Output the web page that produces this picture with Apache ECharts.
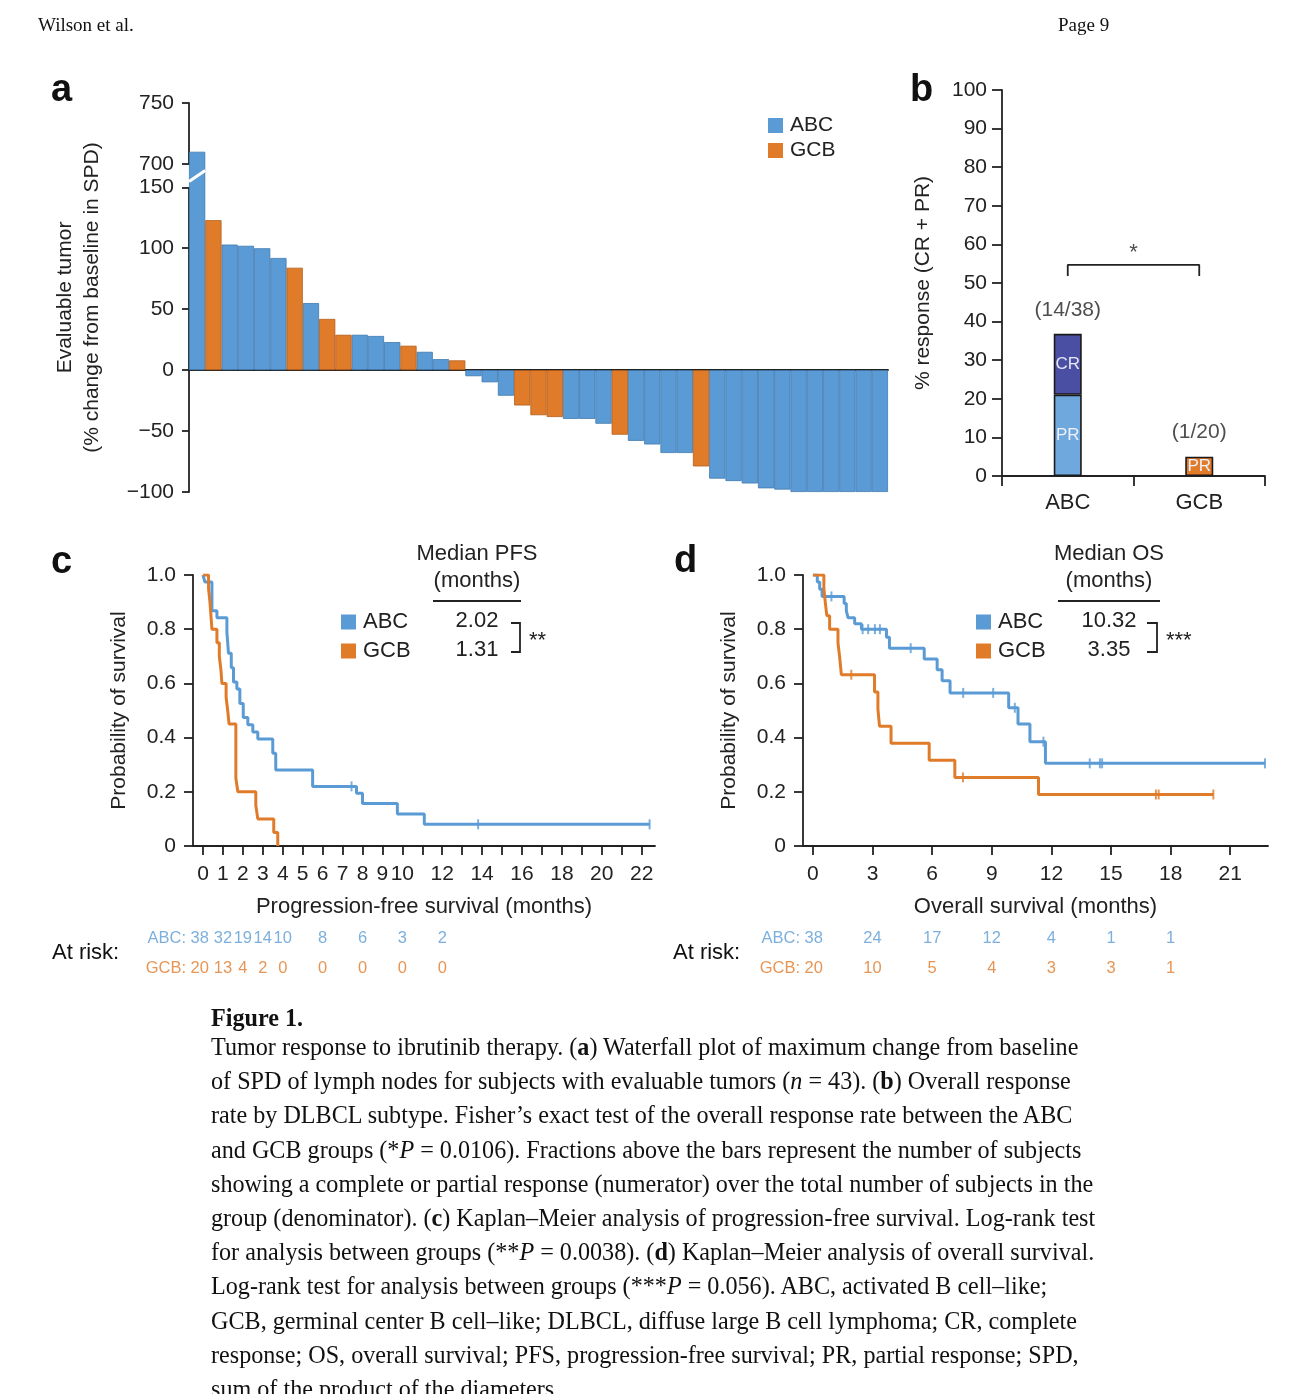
<!DOCTYPE html>
<html><head><meta charset="utf-8">
<script src="https://cdn.jsdelivr.net/npm/echarts@6.0.0/dist/echarts.min.js"></script>
<style>
html,body{margin:0;padding:0;background:#fff;}
#chart{position:absolute;left:0;top:0;width:1292px;height:1394px;}
.hdr{position:absolute;top:14px;font-family:'Liberation Serif','Times New Roman',serif;font-size:19px;color:#111;}
.cap{position:absolute;left:211px;font-family:'Liberation Serif','Times New Roman',serif;font-size:24.15px;line-height:34.2px;color:#111;white-space:pre;}
</style></head><body>
<div id="chart"></div>
<div class="hdr" style="left:38px">Wilson et al.</div>
<div class="hdr" style="left:1058px">Page 9</div>
<div class="cap" style="top:1001px"><b>Figure 1.</b></div>
<div class="cap" style="top:1030px">Tumor response to ibrutinib therapy. (<b>a</b>) Waterfall plot of maximum change from baseline
of SPD of lymph nodes for subjects with evaluable tumors (<i>n</i> = 43). (<b>b</b>) Overall response
rate by DLBCL subtype. Fisher’s exact test of the overall response rate between the ABC
and GCB groups (*<i>P</i> = 0.0106). Fractions above the bars represent the number of subjects
showing a complete or partial response (numerator) over the total number of subjects in the
group (denominator). (<b>c</b>) Kaplan–Meier analysis of progression-free survival. Log-rank test
for analysis between groups (**<i>P</i> = 0.0038). (<b>d</b>) Kaplan–Meier analysis of overall survival.
Log-rank test for analysis between groups (***<i>P</i> = 0.056). ABC, activated B cell–like;
GCB, germinal center B cell–like; DLBCL, diffuse large B cell lymphoma; CR, complete
response; OS, overall survival; PFS, progression-free survival; PR, partial response; SPD,
sum of the product of the diameters.</div>
<script>
// ---------- Panel a: waterfall ----------
const waterfallValues = [710,123,103,102,100,92,84,55,42,29,29,28,23,20,15,9,8,-5,-10,-21,-29,-37,-38.5,-40,-40,-44,-53,-58,-61,-68,-68,-79,-89,-91,-93,-97,-98,-100,-100,-100,-100,-100,-100];
const waterfallSubtype = ['ABC','GCB','ABC','ABC','ABC','ABC','GCB','ABC','GCB','GCB','ABC','ABC','ABC','GCB','ABC','ABC','GCB','ABC','ABC','ABC','GCB','GCB','GCB','ABC','ABC','ABC','GCB','ABC','ABC','ABC','ABC','GCB','ABC','ABC','ABC','ABC','ABC','ABC','ABC','ABC','ABC','ABC','ABC'];
const waterfallTicks = [-100,-50,0,50,100,150,700,750];

// ---------- Panel b: response ----------
const responseGroups = ['ABC','GCB'];
const prPercent = [21.05, 5.0];
const crPercent = [15.79, 0];
const responseFractions = ['(14/38)', '(1/20)'];
const bracketLevels = [51.8, 54.7];

// ---------- Panel c: PFS ----------
const pfsABC = [[0,1],[0.1,0.974],[0.45,0.868],[0.7,0.842],[1.2,0.789],[1.28,0.711],[1.42,0.658],[1.53,0.605],[1.7,0.579],[1.85,0.526],[2.02,0.474],[2.25,0.447],[2.5,0.421],[2.75,0.395],[3.5,0.342],[3.65,0.28],[5.5,0.22],[7.7,0.195],[8.0,0.157],[9.75,0.118],[11.1,0.08],[22.4,0.08]];
const pfsGCB = [[0,1],[0.28,0.95],[0.35,0.90],[0.45,0.80],[0.7,0.75],[0.82,0.70],[0.9,0.65],[0.95,0.60],[1.16,0.55],[1.24,0.50],[1.31,0.45],[1.65,0.25],[1.75,0.20],[2.65,0.15],[2.75,0.10],[3.55,0.05],[3.75,0]];
const pfsCensorABC = [7.45, 13.8, 22.4];
const pfsTicks = [0,1,2,3,4,5,6,7,8,9,10,11,12,13,14,15,16,17,18,19,20,21,22];
const pfsTickLabels = [0,1,2,3,4,5,6,7,8,9,10,12,14,16,18,20,22];
const pfsRiskTimes = [0,1,2,3,4,6,8,10,12];
const pfsRiskABC = [38,32,19,14,10,8,6,3,2];
const pfsRiskGCB = [20,13,4,2,0,0,0,0,0];
const pfsMedians = ['2.02','1.31'];

// ---------- Panel d: OS ----------
const osABC = [[0,1],[0.22,0.974],[0.34,0.947],[0.46,0.921],[1.57,0.895],[1.68,0.868],[1.77,0.842],[2.1,0.82],[2.44,0.80],[3.7,0.77],[3.85,0.73],[5.6,0.69],[6.25,0.65],[6.5,0.61],[6.9,0.565],[9.85,0.51],[10.32,0.45],[10.92,0.385],[11.7,0.305],[22.75,0.305]];
const osGCB = [[0,1],[0.55,0.95],[0.62,0.90],[0.7,0.85],[0.84,0.80],[1.26,0.75],[1.34,0.70],[1.43,0.632],[3.1,0.568],[3.27,0.505],[3.35,0.442],[3.93,0.379],[5.85,0.316],[7.14,0.253],[11.35,0.19],[20.15,0.19]];
const osCensorABC = [0.93,2.5,2.78,3.12,3.37,4.92,7.56,9.07,10.16,11.6,13.93,14.44,14.55,22.75];
const osCensorGCB = [1.93,7.55,17.26,17.4,20.15];
const osTicks = [0,3,6,9,12,15,18,21];
const osRiskTimes = [0,3,6,9,12,15,18];
const osRiskABC = [38,24,17,12,4,1,1];
const osRiskGCB = [20,10,5,4,3,3,1];
const osMedians = ['10.32','3.35'];

// ---------- styling ----------
const FONT = 'Liberation Sans, Arial, Helvetica, sans-serif';
const DARK = '#222';
const BLUE = '#5B9BD5', ORANGE = '#E07B2A', CRCOL = '#4B4FA3', PRCOL = '#6FA8DC';
const AX = { color: DARK, width: 1.8 };

function stepAt(curve, t) { let s = curve[0][1]; for (const p of curve) { if (p[0] <= t) s = p[1]; else break; } return s; }
function censorPts(curve, times) { return times.map(t => [t, stepAt(curve, t)]); }
function riskData(times, counts, y, prefix, off) {
  return times.map((t, i) => i === 0
    ? { value: [t, y, counts[i]], label: { formatter: prefix + counts[i], align: 'right', offset: [off, 0] } }
    : { value: [t, y, counts[i]] });
}
const lbl = (size, extra) => Object.assign({ fontFamily: FONT, fontSize: size, color: DARK }, extra || {});
const legendData = () => [
  { name: 'ABC', icon: 'rect', itemStyle: { color: BLUE, borderWidth: 0 } },
  { name: 'GCB', icon: 'rect', itemStyle: { color: ORANGE, borderWidth: 0 } }
];

const chart = echarts.init(document.getElementById('chart'), null, { renderer: 'canvas', width: 1292, height: 1394 });

const graphics = [
  { type: 'text', x: 51, y: 91, style: { text: 'a', font: 'bold 38px ' + FONT, fill: '#111', textVerticalAlign: 'middle' } },
  { type: 'text', x: 910, y: 91, style: { text: 'b', font: 'bold 38px ' + FONT, fill: '#111', textVerticalAlign: 'middle' } },
  { type: 'text', x: 51, y: 563, style: { text: 'c', font: 'bold 38px ' + FONT, fill: '#111', textVerticalAlign: 'middle' } },
  { type: 'text', x: 674, y: 562, style: { text: 'd', font: 'bold 38px ' + FONT, fill: '#111', textVerticalAlign: 'middle' } },
  // panel c median table
  { type: 'text', x: 477, y: 554, style: { text: 'Median PFS', font: '22px ' + FONT, fill: DARK, textAlign: 'center', textVerticalAlign: 'middle' } },
  { type: 'text', x: 477, y: 581, style: { text: '(months)', font: '22px ' + FONT, fill: DARK, textAlign: 'center', textVerticalAlign: 'middle' } },
  { type: 'line', shape: { x1: 433, y1: 601, x2: 521, y2: 601 }, style: { stroke: DARK, lineWidth: 2 } },
  { type: 'text', x: 477, y: 621, style: { text: pfsMedians[0], font: '22px ' + FONT, fill: DARK, textAlign: 'center', textVerticalAlign: 'middle' } },
  { type: 'text', x: 477, y: 650, style: { text: pfsMedians[1], font: '22px ' + FONT, fill: DARK, textAlign: 'center', textVerticalAlign: 'middle' } },
  { type: 'polyline', shape: { points: [[511, 623], [520, 623], [520, 652], [511, 652]] }, style: { stroke: DARK, lineWidth: 1.8, fill: null } },
  { type: 'text', x: 529, y: 641, style: { text: '**', font: '22px ' + FONT, fill: DARK, textVerticalAlign: 'middle' } },
  // panel d median table
  { type: 'text', x: 1109, y: 554, style: { text: 'Median OS', font: '22px ' + FONT, fill: DARK, textAlign: 'center', textVerticalAlign: 'middle' } },
  { type: 'text', x: 1109, y: 581, style: { text: '(months)', font: '22px ' + FONT, fill: DARK, textAlign: 'center', textVerticalAlign: 'middle' } },
  { type: 'line', shape: { x1: 1058, y1: 601, x2: 1160, y2: 601 }, style: { stroke: DARK, lineWidth: 2 } },
  { type: 'text', x: 1109, y: 621, style: { text: osMedians[0], font: '22px ' + FONT, fill: DARK, textAlign: 'center', textVerticalAlign: 'middle' } },
  { type: 'text', x: 1109, y: 650, style: { text: osMedians[1], font: '22px ' + FONT, fill: DARK, textAlign: 'center', textVerticalAlign: 'middle' } },
  { type: 'polyline', shape: { points: [[1147, 623], [1157, 623], [1157, 652], [1147, 652]] }, style: { stroke: DARK, lineWidth: 1.8, fill: null } },
  { type: 'text', x: 1166, y: 641, style: { text: '***', font: '22px ' + FONT, fill: DARK, textVerticalAlign: 'middle' } },
  // at risk captions
  { type: 'text', x: 52, y: 953, style: { text: 'At risk:', font: '22px ' + FONT, fill: '#111', textVerticalAlign: 'middle' } },
  { type: 'text', x: 673, y: 953, style: { text: 'At risk:', font: '22px ' + FONT, fill: '#111', textVerticalAlign: 'middle' } }
];

const option = {
  animation: false,
  textStyle: { fontFamily: FONT },
  grid: [
    { left: 189, top: 103, width: 699, height: 389 },   // a
    { left: 1002, top: 90, width: 263, height: 386 },   // b
    { left: 193, top: 575, width: 462, height: 271 },   // c
    { left: 803, top: 575, width: 465, height: 271 },   // d
    { left: 193, top: 938, width: 462, height: 30 },    // c at risk
    { left: 803, top: 938, width: 465, height: 30 }     // d at risk
  ],
  xAxis: [
    { gridIndex: 0, type: 'category', data: waterfallValues.map((_, i) => String(i + 1)),
      axisLine: { show: true, onZero: true, lineStyle: AX }, axisTick: { show: false }, axisLabel: { show: false } },
    { gridIndex: 1, type: 'category', data: responseGroups,
      axisLine: { onZero: false, lineStyle: AX }, axisTick: { show: true, length: 10, lineStyle: AX },
      axisLabel: lbl(22, { margin: 16 }) },
    { gridIndex: 1, type: 'value', min: -0.5, max: 1.5, show: false },
    { gridIndex: 2, type: 'value', min: -0.5, max: 22.67,
      axisLine: { show: true, onZero: false, lineStyle: AX },
      axisTick: { show: true, customValues: pfsTicks, length: 9, lineStyle: AX },
      axisLabel: lbl(21, { customValues: pfsTickLabels, margin: 18 }),
      splitLine: { show: false },
      name: 'Progression-free survival (months)', nameLocation: 'middle', nameGap: 50, nameTextStyle: lbl(22) },
    { gridIndex: 3, type: 'value', min: -0.5, max: 22.9,
      axisLine: { show: true, onZero: false, lineStyle: AX },
      axisTick: { show: true, customValues: osTicks, length: 9, lineStyle: AX },
      axisLabel: lbl(21, { customValues: osTicks, margin: 18 }),
      splitLine: { show: false },
      name: 'Overall survival (months)', nameLocation: 'middle', nameGap: 50, nameTextStyle: lbl(22) },
    { gridIndex: 4, type: 'value', min: -0.5, max: 22.67, show: false },
    { gridIndex: 5, type: 'value', min: -0.5, max: 22.9, show: false }
  ],
  yAxis: [
    { gridIndex: 0, type: 'value', min: -100, max: 750, interval: 50,
      breaks: [{ start: 150, end: 700, gap: '6%' }],
      breakArea: { show: false, expandOnClick: false },
      axisLine: { show: true, onZero: false, lineStyle: AX },
      axisTick: { show: true, length: 7, customValues: waterfallTicks, lineStyle: AX },
      axisLabel: lbl(21, { margin: 15, customValues: waterfallTicks, formatter: v => (v < 0 ? '\u2212' + (-v) : String(v)) }),
      splitLine: { show: false },
      name: 'Evaluable tumor\n(% change from baseline in SPD)', nameLocation: 'middle', nameGap: 83,
      nameTextStyle: lbl(21, { lineHeight: 27 }) },
    { gridIndex: 1, type: 'value', min: 0, max: 100, interval: 10,
      axisLine: { show: true, onZero: false, lineStyle: AX }, axisTick: { show: true, length: 10, lineStyle: AX },
      axisLabel: lbl(21, { margin: 15 }), splitLine: { show: false },
      name: '% response (CR + PR)', nameLocation: 'middle', nameGap: 68, nameTextStyle: lbl(21) },
    { gridIndex: 2, type: 'value', min: 0, max: 1, interval: 0.2,
      axisLine: { show: true, onZero: false, lineStyle: AX }, axisTick: { show: true, length: 9, lineStyle: AX },
      axisLabel: lbl(21, { margin: 17, formatter: v => v === 0 ? '0' : v.toFixed(1) }), splitLine: { show: false },
      name: 'Probability of survival', nameLocation: 'middle', nameGap: 63, nameTextStyle: lbl(21) },
    { gridIndex: 3, type: 'value', min: 0, max: 1, interval: 0.2,
      axisLine: { show: true, onZero: false, lineStyle: AX }, axisTick: { show: true, length: 9, lineStyle: AX },
      axisLabel: lbl(21, { margin: 17, formatter: v => v === 0 ? '0' : v.toFixed(1) }), splitLine: { show: false },
      name: 'Probability of survival', nameLocation: 'middle', nameGap: 63, nameTextStyle: lbl(21) },
    { gridIndex: 4, type: 'value', min: 0, max: 1, show: false },
    { gridIndex: 5, type: 'value', min: 0, max: 1, show: false }
  ],
  legend: [
    { left: 768, top: 115, padding: 0, orient: 'vertical', itemWidth: 15, itemHeight: 15, itemGap: 4,
      textStyle: lbl(21, { padding: [0, 0, 0, 2] }), selectedMode: false, data: legendData() },
    { left: 341, top: 611, padding: 0, orient: 'vertical', itemWidth: 15, itemHeight: 15, itemGap: 7,
      textStyle: lbl(22, { padding: [0, 0, 0, 2] }), selectedMode: false, data: legendData() },
    { left: 976, top: 611, padding: 0, orient: 'vertical', itemWidth: 15, itemHeight: 15, itemGap: 7,
      textStyle: lbl(22, { padding: [0, 0, 0, 2] }), selectedMode: false, data: legendData() }
  ],
  series: [
    { name: 'ABC', type: 'bar', xAxisIndex: 0, yAxisIndex: 0, barCategoryGap: '0%', barGap: '-100%',
      data: waterfallValues.map((v, i) => waterfallSubtype[i] === 'ABC' ? v : '-'),
      itemStyle: { color: BLUE, borderColor: '#3f78ad', borderWidth: 0.8 } },
    { name: 'GCB', type: 'bar', xAxisIndex: 0, yAxisIndex: 0, barCategoryGap: '0%', barGap: '-100%',
      data: waterfallValues.map((v, i) => waterfallSubtype[i] === 'GCB' ? v : '-'),
      itemStyle: { color: ORANGE, borderColor: '#b35e1c', borderWidth: 0.8 } },
    { name: 'PR', type: 'bar', stack: 'resp', xAxisIndex: 1, yAxisIndex: 1, barWidth: 28,
      data: prPercent.map((v, i) => ({ value: v, itemStyle: { color: i === 0 ? PRCOL : ORANGE } })),
      itemStyle: { borderColor: '#1a1a1a', borderWidth: 1.6 },
      label: { show: true, position: 'inside', formatter: 'PR', fontFamily: FONT, fontSize: 17, color: '#eef0fa' } },
    { name: 'CR', type: 'bar', stack: 'resp', xAxisIndex: 1, yAxisIndex: 1, barWidth: 28,
      data: crPercent.map(v => v > 0 ? v : '-'),
      itemStyle: { color: CRCOL, borderColor: '#1a1a1a', borderWidth: 1.6 },
      label: { show: true, position: 'inside', formatter: 'CR', fontFamily: FONT, fontSize: 17, color: '#e6e8f6' } },
    { name: 'fractions', type: 'scatter', xAxisIndex: 1, yAxisIndex: 1, symbolSize: 1,
      itemStyle: { color: 'rgba(0,0,0,0)' },
      data: responseGroups.map((g, i) => [i, prPercent[i] + crPercent[i]]),
      label: { show: true, position: 'top', distance: 13, formatter: p => responseFractions[p.dataIndex], fontFamily: FONT, fontSize: 21, color: DARK } },
    { name: 'bracket', type: 'line', xAxisIndex: 2, yAxisIndex: 1, symbol: 'none',
      lineStyle: { color: DARK, width: 1.8 },
      data: [[0, bracketLevels[0]], [0, bracketLevels[1]], [1, bracketLevels[1]], [1, bracketLevels[0]]] },
    { name: 'star', type: 'scatter', xAxisIndex: 2, yAxisIndex: 1, symbolSize: 1, itemStyle: { color: 'rgba(0,0,0,0)' },
      data: [[0.5, bracketLevels[1]]],
      label: { show: true, position: 'top', distance: 0, formatter: '*', fontFamily: FONT, fontSize: 22, color: DARK } },
    // PFS
    { name: 'ABC', type: 'line', step: 'end', xAxisIndex: 3, yAxisIndex: 2, symbol: 'none', data: pfsABC,
      lineStyle: { color: BLUE, width: 3 }, itemStyle: { color: BLUE }, z: 3 },
    { name: 'GCB', type: 'line', step: 'end', xAxisIndex: 3, yAxisIndex: 2, symbol: 'none', data: pfsGCB,
      lineStyle: { color: ORANGE, width: 3 }, itemStyle: { color: ORANGE }, z: 4 },
    { name: 'ABC', type: 'scatter', xAxisIndex: 3, yAxisIndex: 2, symbol: 'rect', symbolSize: [2, 10],
      data: censorPts(pfsABC, pfsCensorABC), itemStyle: { color: BLUE } },
    // OS
    { name: 'ABC', type: 'line', step: 'end', xAxisIndex: 4, yAxisIndex: 3, symbol: 'none', data: osABC,
      lineStyle: { color: BLUE, width: 3 }, itemStyle: { color: BLUE }, z: 3 },
    { name: 'GCB', type: 'line', step: 'end', xAxisIndex: 4, yAxisIndex: 3, symbol: 'none', data: osGCB,
      lineStyle: { color: ORANGE, width: 3 }, itemStyle: { color: ORANGE }, z: 4 },
    { name: 'ABC', type: 'scatter', xAxisIndex: 4, yAxisIndex: 3, symbol: 'rect', symbolSize: [2, 10],
      data: censorPts(osABC, osCensorABC), itemStyle: { color: BLUE } },
    { name: 'GCB', type: 'scatter', xAxisIndex: 4, yAxisIndex: 3, symbol: 'rect', symbolSize: [2, 10],
      data: censorPts(osGCB, osCensorGCB), itemStyle: { color: ORANGE } },
    // at risk tables
    { name: 'riskC_ABC', type: 'scatter', xAxisIndex: 5, yAxisIndex: 4, symbolSize: 1, itemStyle: { color: 'rgba(0,0,0,0)' },
      data: riskData(pfsRiskTimes, pfsRiskABC, 1, 'ABC: ', 6),
      label: { show: true, position: 'inside', formatter: p => String(p.value[2]), fontFamily: FONT, fontSize: 16.5, color: BLUE } },
    { name: 'riskC_GCB', type: 'scatter', xAxisIndex: 5, yAxisIndex: 4, symbolSize: 1, itemStyle: { color: 'rgba(0,0,0,0)' },
      data: riskData(pfsRiskTimes, pfsRiskGCB, 0, 'GCB: ', 6),
      label: { show: true, position: 'inside', formatter: p => String(p.value[2]), fontFamily: FONT, fontSize: 16.5, color: ORANGE } },
    { name: 'riskD_ABC', type: 'scatter', xAxisIndex: 6, yAxisIndex: 5, symbolSize: 1, itemStyle: { color: 'rgba(0,0,0,0)' },
      data: riskData(osRiskTimes, osRiskABC, 1, 'ABC: ', 10),
      label: { show: true, position: 'inside', formatter: p => String(p.value[2]), fontFamily: FONT, fontSize: 16.5, color: BLUE } },
    { name: 'riskD_GCB', type: 'scatter', xAxisIndex: 6, yAxisIndex: 5, symbolSize: 1, itemStyle: { color: 'rgba(0,0,0,0)' },
      data: riskData(osRiskTimes, osRiskGCB, 0, 'GCB: ', 10),
      label: { show: true, position: 'inside', formatter: p => String(p.value[2]), fontFamily: FONT, fontSize: 16.5, color: ORANGE } }
  ],
  graphic: graphics
};
chart.setOption(option);

// white break slash across the first (clipped) bar, placed from the axis scale
try {
  const yLow = chart.convertToPixel({ yAxisIndex: 0 }, 150);
  const yHigh = chart.convertToPixel({ yAxisIndex: 0 }, 700);
  const xc = chart.convertToPixel({ xAxisIndex: 0 }, '1');
  const bw = 699 / waterfallValues.length;
  if (isFinite(yLow) && isFinite(yHigh) && isFinite(xc)) {
    const mid = (yLow + yHigh) / 2;
    graphics.push({ type: 'line', z: 100,
      shape: { x1: xc - bw / 2, y1: mid + 6, x2: xc + bw / 2, y2: mid - 5 },
      style: { stroke: '#fff', lineWidth: 3 } });
    chart.setOption({ graphic: graphics });
  }
} catch (e) {}
</script>
</body></html>
